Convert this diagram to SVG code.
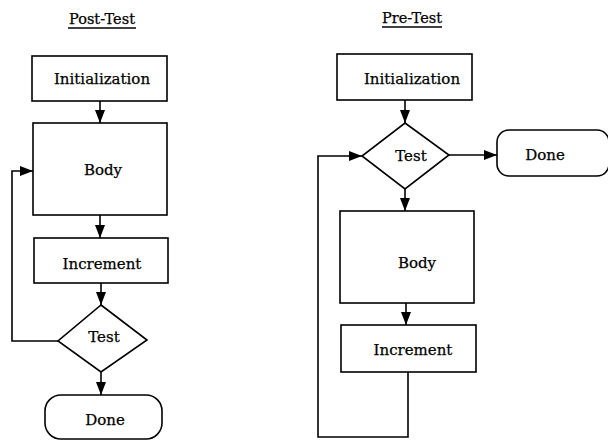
<svg xmlns="http://www.w3.org/2000/svg" width="608" height="441" viewBox="0 0 608 441">
<style>
.box{fill:#fff;stroke:#000;stroke-width:1.6}
.ln{fill:none;stroke:#000;stroke-width:1.6}
text{font-family:"DejaVu Serif","Liberation Serif",serif;font-size:15px;fill:#000;stroke:#000;stroke-width:0.25;text-anchor:middle}
.ttl{font-size:14.5px}
</style>
<defs>
<marker id="ah" markerWidth="14" markerHeight="10" refX="13" refY="5" orient="auto" markerUnits="userSpaceOnUse">
<path d="M0,0 L13,5 L0,10 Z" fill="#000"/>
</marker>
</defs>
<rect width="608" height="441" fill="#fff"/>
<g id="titles">
<text class="ttl" x="102" y="24">Post-Test</text>
<line x1="68" y1="28" x2="136" y2="28" stroke="#000" stroke-width="1.3"/>
<text class="ttl" x="412" y="23">Pre-Test</text>
<line x1="382" y1="27" x2="442" y2="27" stroke="#000" stroke-width="1.3"/>
</g>
<g id="connectors">
<line class="ln" x1="100" y1="101" x2="100" y2="123" marker-end="url(#ah)"/>
<line class="ln" x1="100" y1="215" x2="100" y2="238" marker-end="url(#ah)"/>
<line class="ln" x1="101" y1="283" x2="101" y2="305" marker-end="url(#ah)"/>
<line class="ln" x1="101" y1="372" x2="101" y2="395" marker-end="url(#ah)"/>
<polyline class="ln" points="58,341 12,341 12,171 33,171" marker-end="url(#ah)"/>
<line class="ln" x1="405" y1="100" x2="405" y2="123" marker-end="url(#ah)"/>
<line class="ln" x1="449" y1="155" x2="497" y2="155" marker-end="url(#ah)"/>
<line class="ln" x1="405" y1="189" x2="405" y2="211" marker-end="url(#ah)"/>
<line class="ln" x1="406" y1="303" x2="406" y2="325" marker-end="url(#ah)"/>
<polyline class="ln" points="408,372 408,437 318,437 318,156 362,156" marker-end="url(#ah)"/>
</g>
<g id="post-init"><rect class="box" x="32" y="56" width="135" height="45"/><text x="102" y="84">Initialization</text></g>
<g id="post-body"><rect class="box" x="33" y="123" width="134" height="92"/><text x="103" y="175">Body</text></g>
<g id="post-increment"><rect class="box" x="34" y="238" width="134" height="45"/><text x="102" y="269">Increment</text></g>
<g id="post-test"><polygon class="box" points="101,305 147,340 101,372 58,341"/><text x="104" y="342">Test</text></g>
<g id="post-done"><rect class="box" x="45" y="395" width="117" height="44" rx="16" ry="16"/><text x="105" y="425">Done</text></g>
<g id="pre-init"><rect class="box" x="337" y="54" width="135" height="46"/><text x="412" y="84">Initialization</text></g>
<g id="pre-test"><polygon class="box" points="405,123 449,155 405,189 362,156"/><text x="411" y="161">Test</text></g>
<g id="pre-done"><rect class="box" x="497" y="130" width="112" height="46" rx="12" ry="12"/><text x="545" y="160">Done</text></g>
<g id="pre-body"><rect class="box" x="340" y="211" width="134" height="92"/><text x="417" y="268">Body</text></g>
<g id="pre-increment"><rect class="box" x="341" y="325" width="135" height="47"/><text x="413" y="355">Increment</text></g>
</svg>
